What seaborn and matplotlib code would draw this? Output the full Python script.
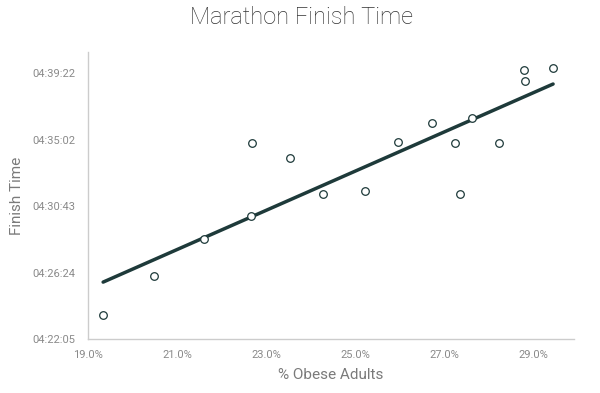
import matplotlib
matplotlib.use("Agg")
import matplotlib.pyplot as plt
import seaborn as sns
import pandas as pd

title = "Marathon Finish Time"
x_label = "% Obese Adults"
y_label = "Finish Time"

obese_pct = [19.34, 20.48, 21.60, 22.66, 22.69, 23.54, 24.27, 25.22, 25.96,
             26.73, 27.24, 27.36, 27.62, 28.23, 28.80, 28.82, 29.45]
finish_time = ["04:23:37", "04:26:10", "04:28:34", "04:30:06", "04:34:51",
               "04:33:52", "04:31:30", "04:31:43", "04:34:55", "04:36:09",
               "04:34:51", "04:31:30", "04:36:28", "04:34:51", "04:39:35",
               "04:38:53", "04:39:44"]
x_ticks = [19.0, 21.0, 23.0, 25.0, 27.0, 29.0]
y_tick_labels = ["04:22:05", "04:26:24", "04:30:43", "04:35:02", "04:39:22"]


def to_sec(s):
    h, m, sec = s.split(":")
    return int(h) * 3600 + int(m) * 60 + int(sec)


df = pd.DataFrame({"x": obese_pct, "y": [to_sec(t) for t in finish_time]})
y_ticks = [to_sec(t) for t in y_tick_labels]

sns.set_theme(style="white")
plt.rcParams["font.family"] = ["Roboto", "DejaVu Sans"]

fig = plt.figure(figsize=(6, 3.93), dpi=100)
ax = fig.add_axes([88 / 600, 1 - 339 / 393, (574 - 88) / 600, (339 - 52) / 393])

dark = "#1e3a3a"
sns.regplot(data=df, x="x", y="y", ax=ax, ci=None, scatter=False,
            line_kws=dict(color=dark, lw=2.5, zorder=2))
sns.scatterplot(data=df, x="x", y="y", ax=ax, s=30, color="white",
                edgecolor=dark, linewidth=0.9, zorder=3)

ax.set_xlim(19.0, 29.92)
step = (y_ticks[-1] - y_ticks[0]) / (len(y_ticks) - 1)
ax.set_ylim(y_ticks[0], y_ticks[0] + step * 4.32)
ax.set_xticks(x_ticks)
ax.set_xticklabels([f"{v:.1f}%" for v in x_ticks])
ax.set_yticks(y_ticks)
ax.set_yticklabels(y_tick_labels)

for side in ["top", "right"]:
    ax.spines[side].set_visible(False)
for side in ["left", "bottom"]:
    ax.spines[side].set_color("#cccccc")
    ax.spines[side].set_linewidth(1.0)

ax.tick_params(axis="both", length=0, labelsize=8, labelcolor="#8a8a8a")
ax.tick_params(axis="x", pad=8)
ax.tick_params(axis="y", pad=9)
ax.set_xlabel(x_label, fontsize=11, color="#7a7a7a", labelpad=6)
ax.set_ylabel(y_label, fontsize=11, color="#7a7a7a", labelpad=6)
fig.suptitle(title, x=0.502, y=0.985, fontsize=17, color="#333333",
             fontweight="light", va="top")

fig.savefig("out.png", dpi=100)
